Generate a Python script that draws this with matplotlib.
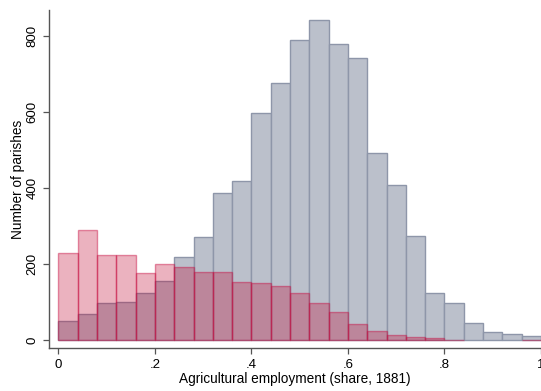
import numpy as np
import matplotlib
matplotlib.use("Agg")
import matplotlib.pyplot as plt

plt.rcParams['font.family'] = ['Liberation Sans', 'DejaVu Sans']

# Histogram bins: share of agricultural employment, width 0.04
bin_edges = [round(0.04 * i, 2) for i in range(26)]

# Parish counts per bin (all parishes)
counts_all = [50, 69, 96, 99, 123, 156, 218, 270, 386, 418,
              596, 675, 789, 843, 778, 742, 493, 407, 274, 123,
              96, 45, 20, 15, 11]

# Parish counts per bin (second group)
counts_group = [228, 289, 224, 224, 175, 201, 192, 180, 179, 152,
                151, 142, 123, 98, 74, 41, 24, 12, 7, 4,
                1, 0, 0, 0, 1]

x_ticks = [0, 0.2, 0.4, 0.6, 0.8, 1.0]
x_tick_labels = ['0', '.2', '.4', '.6', '.8', '1']
y_ticks = [0, 200, 400, 600, 800]

fig = plt.figure(figsize=(5.41, 3.91), dpi=100)
ax = fig.add_axes([49 / 541, (391 - 348.3) / 391, (541 - 49) / 541, (348.3 - 10) / 391])

left = np.array(bin_edges[:-1])
width = np.diff(bin_edges)

ax.bar(left, counts_all, width=width, align='edge',
       color='#bbc0cb', edgecolor='#8e96a9', linewidth=1.0, zorder=2)

grp = np.array(counts_group)
mask = grp > 0
ax.bar(left[mask], grp[mask], width=width[mask], align='edge',
       color=(0.75, 0.0, 0.18, 0.30), edgecolor=(0.78, 0.05, 0.25, 0.45),
       linewidth=1.0, zorder=3)

ax.set_xlim(-0.0195, 1.0)
ax.set_ylim(-22, 868)

ax.set_xticks(x_ticks)
ax.set_xticklabels(x_tick_labels)
ax.set_yticks(y_ticks)
ax.set_yticklabels([str(v) for v in y_ticks], rotation=90, va='center')

for s in ['top', 'right']:
    ax.spines[s].set_visible(False)
for s in ['left', 'bottom']:
    ax.spines[s].set_color('#555555')
    ax.spines[s].set_linewidth(1.0)

ax.tick_params(axis='both', direction='out', length=4.5, width=0.9,
               color='#555555', labelsize=9.5, labelcolor='black', pad=3)

ax.set_xlabel('Agricultural employment (share, 1881)', fontsize=9.8, labelpad=1)
ax.set_ylabel('Number of parishes', fontsize=9.8, labelpad=1)

fig.savefig('out.png', dpi=100)
